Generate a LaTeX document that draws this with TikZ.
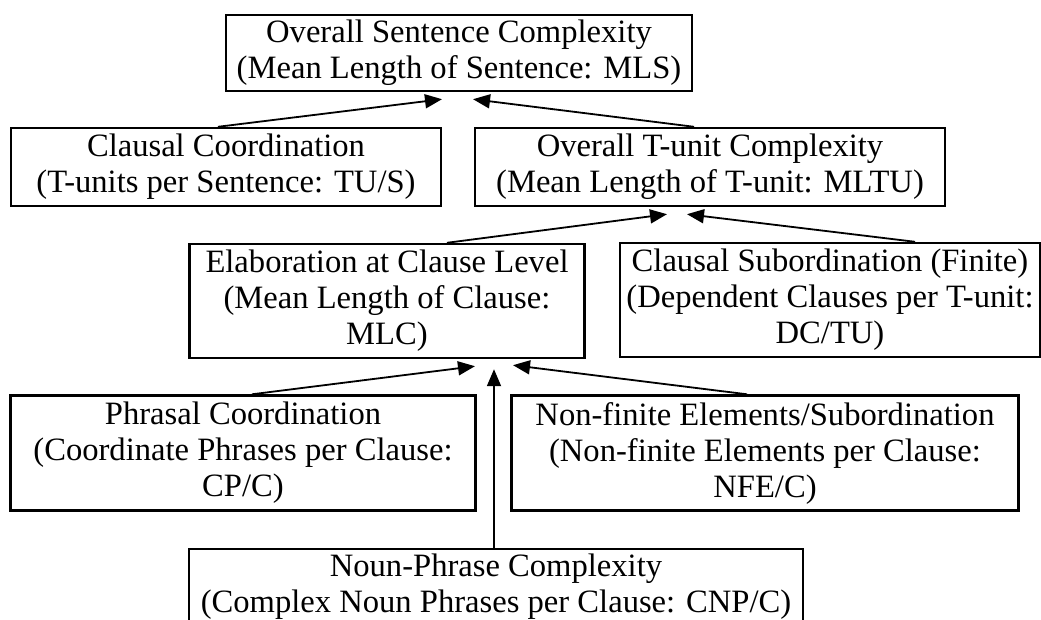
\documentclass[tikz,border=0pt]{standalone}
\usepackage{fontspec}
\setmainfont{Liberation Serif}
\usetikzlibrary{calc,arrows.meta}
\tikzset{
  box/.style={draw, line width=1.2pt, align=center, inner sep=0pt,
    font=\fontsize{16.3}{18}\selectfont},
  link/.style={line width=0.9pt, -{Triangle[length=8.5pt,width=7pt]}}
}
\begin{document}
\begin{tikzpicture}[x=0.5pt,y=-0.5pt]
  \useasboundingbox (0,0) rectangle (1041,620);

  % Sentence level
  \node[box, minimum width=233pt, minimum height=38pt] (mls) at (459,53)
    {Overall Sentence Complexity\\(Mean Length of Sentence: MLS)};

  % T-unit level
  \node[box, minimum width=215pt, minimum height=39pt] (tus) at (226,167)
    {Clausal Coordination\\(T-units per Sentence: TU/S)};
  \node[box, minimum width=235pt, minimum height=39pt] (mltu) at (710,167)
    {Overall T-unit Complexity\\(Mean Length of T-unit: MLTU)};

  % Clause level
  \node[box, minimum width=197.5pt, minimum height=57pt] (mlc) at (387,301)
    {Elaboration at Clause Level\\(Mean Length of Clause:\\MLC)};
  \node[box, minimum width=210pt, minimum height=57pt] (dctu) at (830,300)
    {Clausal Subordination (Finite)\\(Dependent Clauses per T-unit:\\DC/TU)};

  % Phrase level
  \node[box, minimum width=232.5pt, minimum height=57.5pt] (cpc) at (243,453)
    {Phrasal Coordination\\(Coordinate Phrases per Clause:\\CP/C)};
  \node[box, minimum width=253.5pt, minimum height=57.5pt] (nfec) at (765,453)
    {Non-finite Elements/Subordination\\(Non-finite Elements per Clause:\\NFE/C)};
  \node[box, minimum width=307pt, minimum height=38pt] (cnpc) at (496,587)
    {Noun-Phrase Complexity\\(Complex Noun Phrases per Clause: CNP/C)};

  % Arrow ends under each box
  \coordinate (mls-l) at ($(mls.south)+(-17,7)$);
  \coordinate (mls-r) at ($(mls.south)+(14,7)$);
  \coordinate (mltu-l) at ($(mltu.south)+(-43,7)$);
  \coordinate (mltu-r) at ($(mltu.south)+(-23,7)$);
  \coordinate (mlc-l) at ($(mlc.south)+(88,7)$);
  \coordinate (mlc-m) at ($(mlc.south)+(107,10)$);
  \coordinate (mlc-r) at ($(mlc.south)+(126,6)$);

  % Arrows
  \draw[link] ($(tus.north)+(-8,0)$) -- (mls-l);
  \draw[link] ($(mltu.north)+(-16,0)$) -- (mls-r);
  \draw[link] ($(mlc.north)+(60,0)$) -- (mltu-l);
  \draw[link] ($(dctu.north)+(85,0)$) -- (mltu-r);
  \draw[link] ($(cpc.north)+(9,0)$) -- (mlc-l);
  \draw[link] (cnpc.north -| mlc-m) -- (mlc-m);
  \draw[link] ($(nfec.north)+(-18,0)$) -- (mlc-r);
\end{tikzpicture}
\end{document}
